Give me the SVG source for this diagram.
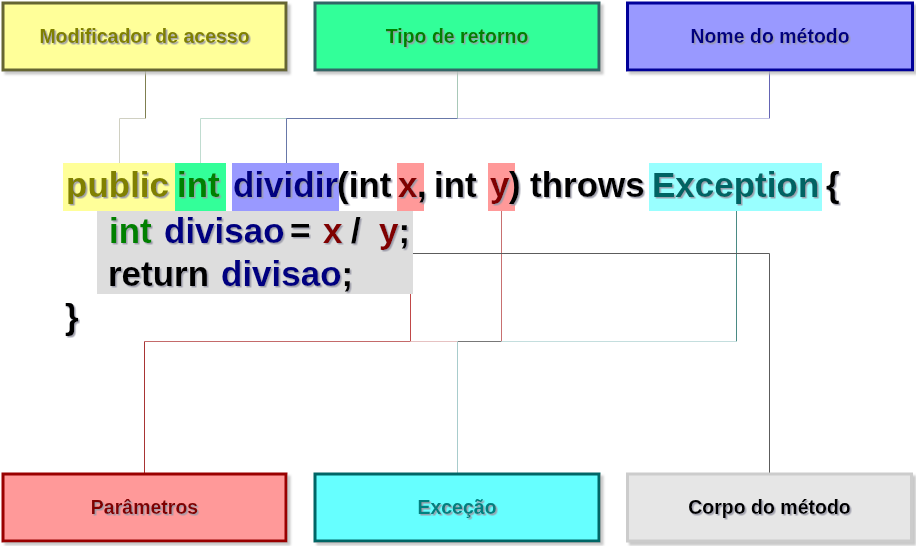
<svg xmlns="http://www.w3.org/2000/svg" width="916" height="546" viewBox="0 0 916 546">
<defs>
<filter id="ts" x="-5%" y="-20%" width="110%" height="140%">
<feDropShadow dx="1.5" dy="1.5" stdDeviation="0.4" flood-color="#9a9aa8" flood-opacity="0.9"/>
</filter>
<filter id="bs" x="-5%" y="-10%" width="115%" height="130%">
<feDropShadow dx="3" dy="3" stdDeviation="0.8" flood-color="#bbbbbb" flood-opacity="0.8"/>
</filter>
</defs>
<style>
.box{stroke-width:3;filter:url(#bs)}
.lbl{font-family:"Liberation Sans",Arial,sans-serif;font-weight:bold;font-size:19.5px;text-anchor:middle;filter:url(#ts)}
.code{font-family:"Liberation Sans",Arial,sans-serif;font-weight:bold;font-size:35px;filter:url(#ts)}
.ln{fill:none;stroke-width:1}
.ol{fill:#808000}.gr{fill:#008000}.nv{fill:#000080}.mr{fill:#800000}.tl{fill:#006464}.bk{fill:#000}
</style>
<rect width="916" height="546" fill="#ffffff"/>

<g id="connectors">
<path class="ln" d="M145.5 71 V118.5" stroke="#7f7f50"/>
<path class="ln" d="M145.5 118.5 H119.5 V163" stroke="#d0d0c2"/>
<path class="ln" d="M457.5 71 V118.5" stroke="#a8c8b8"/>
<path class="ln" d="M457.5 118.5 H200.5 V163" stroke="#c0dcd0"/>
<path class="ln" d="M769.5 71 V118.5" stroke="#6464b4"/>
<path class="ln" d="M769.5 118.5 H457.5" stroke="#c2c2e6"/>
<path class="ln" d="M457.5 118.5 H286.5 V163" stroke="#6878a8"/>
<path class="ln" d="M410.5 211 V341.5" stroke="#c04848"/>
<path class="ln" d="M410.5 341.5 H144.5" stroke="#c46a6a"/>
<path class="ln" d="M144.5 341.5 V473" stroke="#a83434"/>
<path class="ln" d="M501.5 211 V341.5" stroke="#c87070"/>
<path class="ln" d="M501.5 341.5 H457.5" stroke="#787878"/>
<path class="ln" d="M457.5 341.5 H410.5" stroke="#e6c2c2"/>
<path class="ln" d="M736.5 211 V341.5" stroke="#4a8a84"/>
<path class="ln" d="M736.5 341.5 H501.5" stroke="#c4dede"/>
<path class="ln" d="M457.5 341.5 V473" stroke="#a8cccc"/>
<path class="ln" d="M400 253.5 H769.5 V473" stroke="#5c5c5c"/>
</g>

<g id="code">
<rect x="63" y="163" width="112" height="48" fill="#ffff99"/>
<rect x="175" y="163" width="51" height="48" fill="#33ff99"/>
<rect x="232" y="163" width="107" height="48" fill="#9999ff"/>
<rect x="397" y="163" width="27" height="48" fill="#ff9999"/>
<rect x="488" y="163" width="27" height="48" fill="#ff9999"/>
<rect x="649" y="163" width="173" height="48" fill="#99ffff"/>
<rect x="97" y="211" width="316" height="83" fill="#dddddd"/>
<text class="code" y="197"><tspan x="66" class="ol">public</tspan><tspan x="177" class="gr">int</tspan><tspan x="233" class="nv">dividir</tspan><tspan x="337" class="bk">(int</tspan><tspan x="398" class="mr">x</tspan><tspan x="417" class="bk">,</tspan><tspan x="434" class="bk">int</tspan><tspan x="490" class="mr">y</tspan><tspan x="509" class="bk">)</tspan><tspan x="530" class="bk">throws</tspan><tspan x="652" class="tl">Exception</tspan><tspan x="826" class="bk">{</tspan></text>
<text class="code" y="243"><tspan x="109" class="gr">int</tspan><tspan x="164" class="nv">divisao</tspan><tspan x="290" class="bk">=</tspan><tspan x="323" class="mr">x</tspan><tspan x="351" class="bk">/</tspan><tspan x="379" class="mr">y</tspan><tspan class="bk">;</tspan></text>
<text class="code" y="286"><tspan x="108" class="bk">return</tspan><tspan x="221" class="nv">divisao</tspan><tspan class="bk">;</tspan></text>
<text class="code bk" x="65" y="329">}</text>
</g>

<g id="modificador">
<rect class="box" x="3" y="3" width="283" height="67" fill="#ffff99" stroke="#666633"/>
<text class="lbl ol" x="144.5" y="42.5">Modificador de acesso</text>
</g>
<g id="tipo">
<rect class="box" x="315" y="3" width="284" height="67" fill="#33ff99" stroke="#336666"/>
<text class="lbl gr" x="457" y="42.5">Tipo de retorno</text>
</g>
<g id="nome">
<rect class="box" x="627.5" y="3" width="285" height="67" fill="#9999ff" stroke="#000099"/>
<text class="lbl nv" x="770" y="42.5">Nome do método</text>
</g>
<g id="parametros">
<rect class="box" x="3" y="474" width="283" height="67" fill="#ff9999" stroke="#990000"/>
<text class="lbl mr" x="144.5" y="514">Parâmetros</text>
</g>
<g id="excecao">
<rect class="box" x="315" y="474" width="284" height="67" fill="#66ffff" stroke="#006666"/>
<text class="lbl" fill="#008080" x="457" y="514">Exceção</text>
</g>
<g id="corpo">
<rect class="box" x="627.5" y="474" width="284" height="67" fill="#e6e6e6" stroke="#cccccc"/>
<text class="lbl bk" x="769.5" y="514">Corpo do método</text>
</g>
</svg>
